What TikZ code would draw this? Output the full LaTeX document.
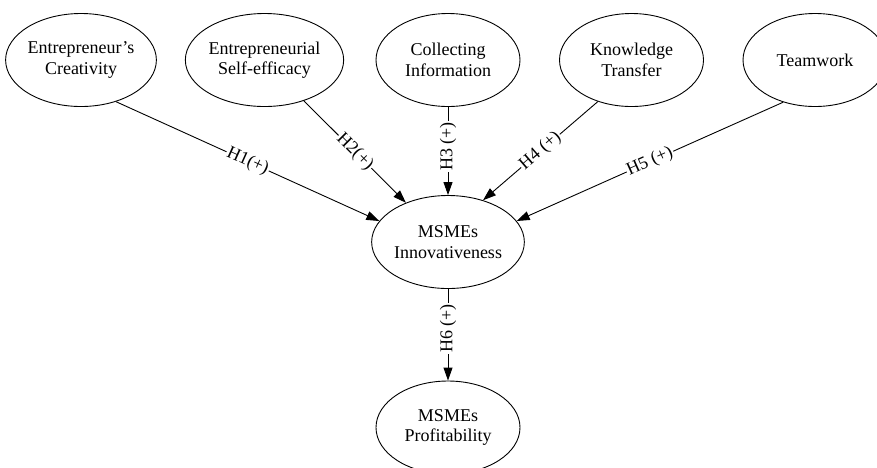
\documentclass[tikz,border=0pt]{standalone}
\usepackage{fontspec}
\setmainfont{Liberation Serif}
\usepackage{tikz}
\usetikzlibrary{shapes,arrows.meta}
\tikzset{
	construct/.style = {draw, ellipse, line width=0.9pt, minimum width=144pt,
		minimum height=93pt, inner sep=0pt, align=center},
	hyp/.style       = {fill=white, inner sep=1pt}, % hypothesis label
	link/.style      = {->, line width=0.9pt}
}
\newcommand{\hfont}{\fontsize{18}{20.5}\selectfont}

\begin{document}
\begin{tikzpicture}[x=1pt, y=1pt, >={Triangle[length=13pt,width=9pt]}, font=\hfont]
	\useasboundingbox (0,0) rectangle (877,-467);
	\clip (0,0) rectangle (877,-467);
	\draw
	node at (81,-60)[construct] (ec) {Entrepreneur’s\\Creativity}
	node at (264.5,-60)[construct] (es) {Entrepreneurial\\Self-efficacy}
	node at (448,-60)[construct] (ci) {Collecting\\Information}
	node at (631.5,-60)[construct] (kt) {Knowledge\\Transfer}
	node at (815,-60)[construct] (tw) {Teamwork}
	node at (448,-242)[construct] (inn) {MSMEs\\Innovativeness}
	node at (448,-427.5)[construct] (pr) {MSMEs\\Profitability};
	
	\draw[link] (ec.-50) -- node[hyp, sloped] {H1(+)} (inn.163);
	\draw[link] (es.-46) -- node[hyp, sloped] {H2(+)} (inn.137);
	\draw[link] (ci) -- node[hyp, pos=0.45, rotate=90] {H3 (+)} (inn);
	\draw[link] (kt.-129) -- node[hyp, sloped] {H4 (+)} (inn.50);
	\draw[link] (tw.-127) -- node[hyp, sloped] {H5 (+)} (inn.17);
	\draw[link] (inn) -- node[hyp, pos=0.43, rotate=90] {H6 (+)} (pr);
\end{tikzpicture}
\end{document}
